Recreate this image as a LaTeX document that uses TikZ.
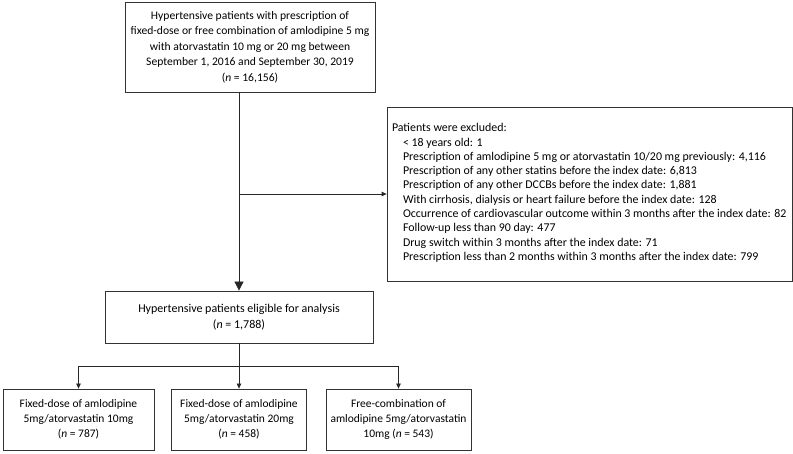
\documentclass[tikz,border=0pt]{standalone}
\usepackage{fontspec}
\setmainfont{Carlito}
\usetikzlibrary{positioning,calc,arrows.meta}

\tikzset{
  box/.style={draw=black!80, line width=0.8pt, align=center, inner sep=1pt},
  arr/.style={-{Triangle[length=5pt,width=4.5pt]}},
  bigarr/.style={-{Triangle[length=9pt,width=9pt]}},
}
\newcommand{\exitem}[1]{\hspace*{11pt}#1}

\begin{document}
\begin{tikzpicture}[x=1pt,y=-1pt, line width=0.8pt, draw=black!85]
  \useasboundingbox (0,0) rectangle (793,454);

  \node[box, minimum width=250pt, minimum height=90pt,
        font=\fontsize{11.6}{15.5}\selectfont] (top) at (250,47)
    {Hypertensive patients with prescription of\\
     fixed-dose or free combination of amlodipine 5 mg\\
     with atorvastatin 10 mg or 20 mg between\\
     September 1, 2016 and September 30, 2019\\
     (\textit{n} = 16,156)};

  \node[box, minimum width=405pt, minimum height=174pt] (excl) at (589.5,194) {};
  \node[below right=16.5pt and 5pt of excl.north west, inner sep=0pt, align=left,
        font=\fontsize{11.9}{14.3}\selectfont] (excltxt)
    {Patients were excluded:\\
     \exitem{< 18 years old: 1}\\
     \exitem{Prescription of amlodipine 5 mg or atorvastatin 10/20 mg previously: 4,116}\\
     \exitem{Prescription of any other statins before the index date: 6,813}\\
     \exitem{Prescription of any other DCCBs before the index date: 1,881}\\
     \exitem{With cirrhosis, dialysis or heart failure before the index date: 128}\\
     \exitem{Occurrence of cardiovascular outcome within 3 months after the index date: 82}\\
     \exitem{Follow-up less than 90 day: 477}\\
     \exitem{Drug switch within 3 months after the index date: 71}\\
     \exitem{Prescription less than 2 months within 3 months after the index date: 799}};

  \node[box, minimum width=268pt, minimum height=52pt,
        font=\fontsize{12}{16}\selectfont] (elig) at (239,317)
    {Hypertensive patients eligible for analysis\\
     (\textit{n} = 1,788)};

  \tikzset{every node/.append style={font=\fontsize{11.5}{14.8}\selectfont}}
  \node[box, minimum width=151pt, minimum height=61pt] (fd10) at (78.5,419.5)
    {Fixed-dose of amlodipine\\
     5mg/atorvastatin 10mg\\
     (\textit{n} = 787)};
  \node[box, minimum width=135pt, minimum height=61pt] (fd20) at (239,419.5)
    {Fixed-dose of amlodipine\\
     5mg/atorvastatin 20mg\\
     (\textit{n} = 458)};
  \node[box, minimum width=145pt, minimum height=61pt] (free) at (398.5,419.5)
    {Free-combination of\\
     amlodipine 5mg/atorvastatin\\
     10mg (\textit{n} = 543)};

  % main flow and exclusion branch
  \draw[bigarr] (top.south -| elig.north) -- (elig.north);
  \draw[arr] (excl.west -| elig.north) -- (excl.west);

  % split into the three groups
  \coordinate (split) at ($(elig.south)+(0,23)$);
  \draw (elig.south) -- (split);
  \draw[arr] (split) -| (fd10.north);
  \draw[arr] (split) -- (fd20.north);
  \draw[arr] (split) -| (free.north);
\end{tikzpicture}
\end{document}
